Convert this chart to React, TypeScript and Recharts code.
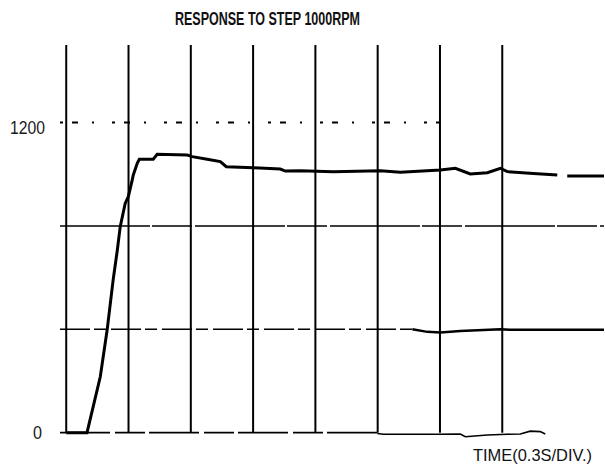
import React from 'react';
import { ComposedChart, Line, XAxis, YAxis, ReferenceLine } from 'recharts';

// Time (s) of each vertical division line (0.3 s / div)
const divisionTimes = [0, 0.3, 0.6, 0.9, 1.2, 1.5, 1.8, 2.1];
const yTicks = [0, 1200];
const title = 'RESPONSE TO STEP 1000RPM';
const xLabel = 'TIME(0.3S/DIV.)';

// Main speed response trace (rpm)
const responseTime = [0, 0.1, 0.164, 0.197, 0.226, 0.246, 0.26, 0.284, 0.299, 0.318, 0.323, 0.342, 0.352, 0.419, 0.438, 0.583, 0.607, 0.679, 0.742, 0.771, 0.901, 1.031, 1.055, 1.127, 1.286, 1.513, 1.609, 1.802, 1.874, 1.946, 2.028, 2.091, 2.124, 2.25, 2.365, 2.38, 2.413, 2.59];
const responseRpm = [0, 0, 216, 397, 591, 706, 797, 887, 913, 978, 997, 1042, 1058, 1058, 1077, 1074, 1068, 1058, 1049, 1029, 1025, 1020, 1012, 1013, 1010, 1013, 1008, 1016, 1023, 1001, 1006, 1023, 1010, 1003, 997, null, 993, 993];

// Secondary trace near 400
const midTime = [1.667, 1.739, 1.802, 1.898, 2.091, 2.139, 2.59];
const midValue = [400, 390, 388, 393, 400, 398, 398];

// Secondary trace near 0
const lowTime = [1.498, 1.527, 1.787, 1.898, 1.922, 2.028, 2.124, 2.187, 2.235, 2.283, 2.307];
const lowValue = [-3, -6, -6, -5, -16, -9, -6, -5, 6, 4, -5];

const zip = (ts: number[], vs: (number | null)[]) => ts.map((t, i) => ({ t, v: vs[i] }));
const responseData = zip(responseTime, responseRpm);
const midData = zip(midTime, midValue);
const lowData = zip(lowTime, lowValue);

const X_MIN = -0.03;
const X_MAX = 2.59;
const Y_TOP = 1500;

const YTick = (props: any) => {
  const { y, payload } = props;
  const isZero = payload.value === 0;
  const label = String(payload.value);
  return (
    <text
      x={isZero ? 33 : 10}
      y={y + (isZero ? 6 : 11)}
      fontFamily="'Liberation Sans', Arial, sans-serif"
      fontSize={17.5}
      fill="#1a1a1a"
      textLength={isZero ? 9 : 35}
      lengthAdjust="spacingAndGlyphs"
    >
      {label}
    </text>
  );
};

export default function App() {
  return (
    <div style={{ position: 'absolute', left: 0, top: 0, width: 605, height: 468, background: '#fff' }}>
      <ComposedChart width={605} height={468} margin={{ top: 45, right: 1, bottom: 25, left: 0 }}>
        <XAxis type="number" dataKey="t" domain={[X_MIN, X_MAX]} hide allowDataOverflow />
        <YAxis
          type="number"
          domain={[-40, Y_TOP]}
          ticks={yTicks}
          width={60}
          axisLine={false}
          tickLine={false}
          tick={<YTick />}
          allowDataOverflow
        />
        {divisionTimes.map((t) => (
          <ReferenceLine
            key={'v' + t}
            segment={[{ x: t, y: 0 }, { x: t, y: Y_TOP }]}
            stroke="#000"
            strokeWidth={2}
          />
        ))}
        <ReferenceLine segment={[{ x: X_MIN, y: 1200 }, { x: 1.8, y: 1200 }]} stroke="#000" strokeWidth={2} strokeDasharray="3 9 6 14 2 18" />
        <ReferenceLine segment={[{ x: X_MIN, y: 800 }, { x: X_MAX, y: 800 }]} stroke="#000" strokeWidth={1.5} strokeDasharray="90 2 40 3" />
        <ReferenceLine segment={[{ x: X_MIN, y: 400 }, { x: 1.667, y: 400 }]} stroke="#000" strokeWidth={1.5} strokeDasharray="30 4 12 5" />
        <ReferenceLine segment={[{ x: X_MIN, y: 0 }, { x: 1.498, y: 0 }]} stroke="#000" strokeWidth={1.8} strokeDasharray="50 5 30 4" />
        <Line data={lowData} dataKey="v" type="linear" stroke="#000" strokeWidth={1.6} dot={false} isAnimationActive={false} />
        <Line data={midData} dataKey="v" type="linear" stroke="#000" strokeWidth={2.5} dot={false} isAnimationActive={false} />
        <Line data={responseData} dataKey="v" type="linear" stroke="#000" strokeWidth={3} dot={false} isAnimationActive={false} connectNulls={false} />
      </ComposedChart>
      <svg width={605} height={468} style={{ position: 'absolute', left: 0, top: 0, pointerEvents: 'none' }}>
        <text x={175} y={25} fontFamily="'Liberation Sans', Arial, sans-serif" fontWeight="bold" fontSize={17.5} fill="#111" textLength={185} lengthAdjust="spacingAndGlyphs">
          {title}
        </text>
        <text x={473} y={461} fontFamily="'Liberation Sans', Arial, sans-serif" fontSize={17} fill="#111" textLength={119} lengthAdjust="spacingAndGlyphs">
          {xLabel}
        </text>
      </svg>
    </div>
  );
}
